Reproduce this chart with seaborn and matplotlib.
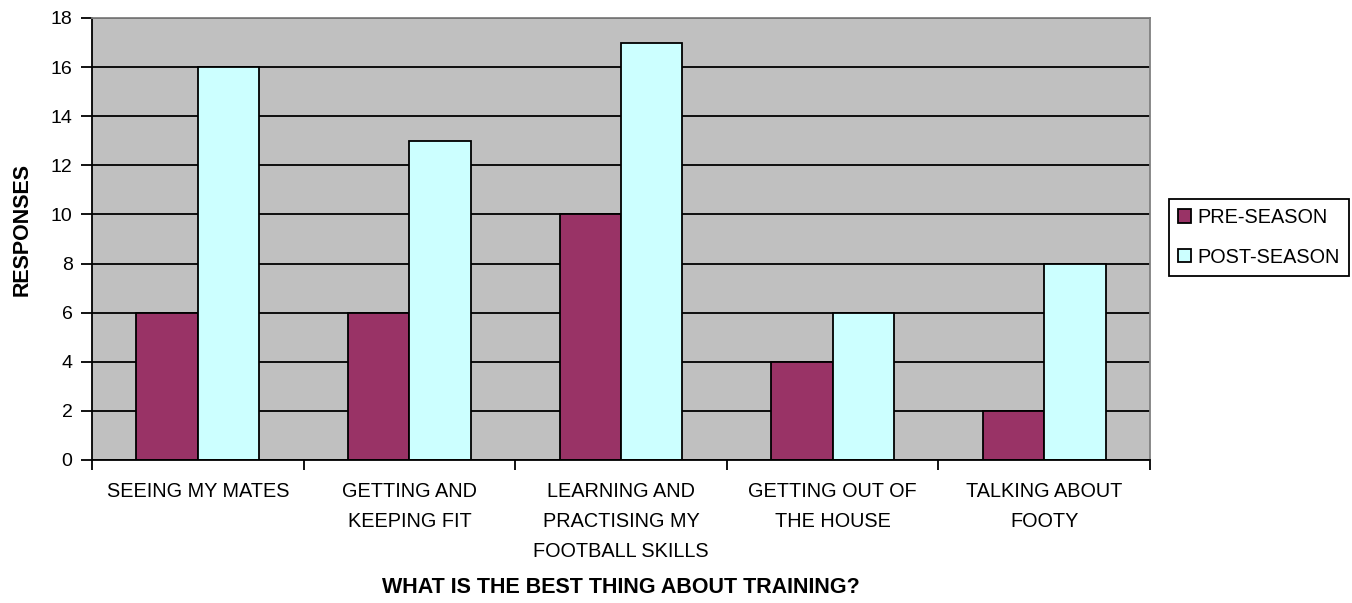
import matplotlib
matplotlib.use("Agg")
import matplotlib.pyplot as plt
import seaborn as sns
import pandas as pd
import numpy as np

categories = [
    "SEEING MY MATES",
    "GETTING AND\nKEEPING FIT",
    "LEARNING AND\nPRACTISING MY\nFOOTBALL SKILLS",
    "GETTING OUT OF\nTHE HOUSE",
    "TALKING ABOUT\nFOOTY",
]
pre_season = [6, 6, 10, 4, 2]
post_season = [16, 13, 17, 6, 8]
series = ["PRE-SEASON", "POST-SEASON"]
colors = ["#993366", "#CCFFFF"]
y_ticks = [0, 2, 4, 6, 8, 10, 12, 14, 16, 18]

df = pd.DataFrame({
    "category": categories * 2,
    "responses": pre_season + post_season,
    "season": [series[0]] * len(categories) + [series[1]] * len(categories),
})

sns.set_theme(style="white")
plt.rcParams["font.family"] = ["Liberation Sans", "DejaVu Sans"]
plt.rcParams["text.color"] = "black"
plt.rcParams["axes.labelcolor"] = "black"
plt.rcParams["xtick.color"] = "black"
plt.rcParams["ytick.color"] = "black"

W, H = 1352, 603
fig = plt.figure(figsize=(W / 100, H / 100), dpi=100)
ax = fig.add_axes([92 / W, 1 - 460 / H, (1150 - 92) / W, (460 - 18) / H])

sns.barplot(
    data=df, x="category", y="responses", hue="season",
    hue_order=series, order=categories, palette=colors, saturation=1,
    width=0.58, edgecolor="black", linewidth=1.3, ax=ax, legend=True,
)

ax.set_facecolor("#C0C0C0")
ax.set_xlim(-0.5, len(categories) - 0.5)
ax.set_ylim(0, 18)
ax.set_yticks(y_ticks)
ax.set_yticklabels([str(v) for v in y_ticks], fontsize=14)
ax.yaxis.grid(True, color="black", linewidth=1.3)
ax.set_axisbelow(True)

# category labels at centres, tick marks at category boundaries
ax.set_xticks(range(len(categories)))
ax.set_xticklabels(categories, fontsize=14.3, linespacing=1.72, va="top")
ax.set_xticks(np.arange(-0.5, len(categories), 1), minor=True)
ax.tick_params(axis="x", which="major", length=0, pad=15.8)
ax.tick_params(axis="x", which="minor", length=7, width=1.3, color="black", direction="out", bottom=True)
ax.tick_params(axis="y", length=8, width=1.3, color="black", direction="out", left=True, pad=6)

for side in ("left", "bottom"):
    ax.spines[side].set_color("black")
    ax.spines[side].set_linewidth(1.3)
for side in ("top", "right"):
    ax.spines[side].set_color("#808080")
    ax.spines[side].set_linewidth(1.3)

ax.set_xlabel("WHAT IS THE BEST THING ABOUT TRAINING?", fontsize=15.5, fontweight="bold")
ax.xaxis.set_label_coords(0.5, (460 - 577) / (460 - 18))
ax.set_ylabel("RESPONSES", fontsize=15.5, fontweight="bold")
ax.yaxis.set_label_coords((33 - 92) / (1150 - 92), (460 - 230) / (460 - 18))

handles, labels = ax.get_legend_handles_labels()
ax.get_legend().remove()
leg = fig.legend(
    handles, labels, loc="upper left",
    bbox_to_anchor=(1169 / W, 1 - 199 / H), bbox_transform=fig.transFigure,
    frameon=True, fancybox=False, edgecolor="black", framealpha=1,
    fontsize=14.3, handlelength=0.65, handleheight=0.65, handletextpad=0.35,
    labelspacing=1.05, borderpad=0.45, borderaxespad=0,
)
leg.get_frame().set_linewidth(1.3)

fig.savefig("out.png", dpi=100, facecolor="white")
